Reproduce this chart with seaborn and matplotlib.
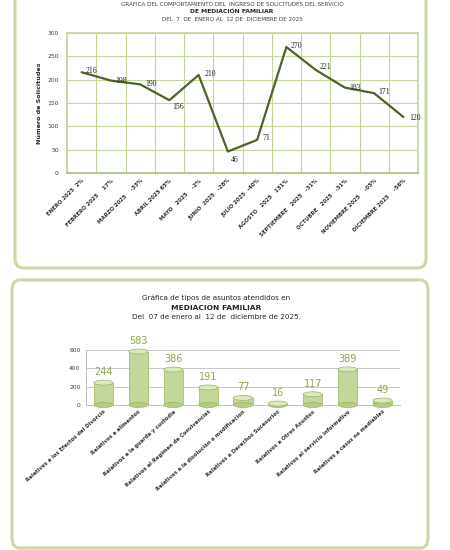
import numpy as np
import pandas as pd
import matplotlib
matplotlib.use("Agg")
import matplotlib.pyplot as plt
from matplotlib.patches import FancyBboxPatch, Ellipse
import seaborn as sns

# ---------------- data ----------------
meses = ["ENERO 2025  2%", "FEBRERO 2025    17%", "MARZO 2025    -33%", "ABRIL 2025 65%",
         "MAYO   2025    -2%", "JUNIO  2025   -28%", "JULIO 2025  -40%", "AGOSTO   2025   131%",
         "SEPTIEMBRE   2025   -31%", "OCTUBRE   2025   -31%", "NOVIEMBRE 2025    -05%",
         "DICIEMBRE 2025    -56%"]
solicitudes = [216, 198, 190, 156, 210, 46, 71, 270, 221, 183, 171, 120]

asuntos = ["Relativos a los Efectos del Divorcio", "Relativos a alimentos",
           "Relativos a la guarda y custodia", "Relativos al Regimen de Convivencias",
           "Relativos a la disolución o modificacion", "Relativos a Derechos Sucesorios",
           "Relativos a Otros Asuntos", "Relativos al servicio informativo",
           "Relativos a casos no mediables"]
asuntos_val = [244, 583, 386, 191, 77, 16, 117, 389, 49]

y1_ticks = [0, 50, 100, 150, 200, 250, 300]
y2_ticks = [0, 200, 400, 600]

sns.set_theme(style="white")
plt.rcParams["font.family"] = ["DejaVu Sans"]

W, H = 450, 550
fig = plt.figure(figsize=(4.5, 5.5), dpi=100)
fig.patch.set_facecolor("white")

def fx(px):
    return px / W

def fy(py):
    return 1 - py / H

border = "#c9d9a6"
# panels
for (x0, y0, x1, y1) in [(15, -20, 426, 268), (12, 280, 428, 548)]:
    p = FancyBboxPatch((fx(x0), fy(y1)), fx(x1 - x0), (y1 - y0) / H,
                       boxstyle="round,pad=0,rounding_size=0.018",
                       transform=fig.transFigure, facecolor="white",
                       edgecolor=border, linewidth=2.2, zorder=-10)
    fig.patches.append(p)

# ---------------- top chart ----------------
df1 = pd.DataFrame({"mes": meses, "n": solicitudes})
ax1 = fig.add_axes([fx(67), fy(173), fx(418 - 67), (173 - 33) / H])
ax1.set_facecolor("none")
sns.lineplot(data=df1, x="mes", y="n", ax=ax1, color="#4f6228", linewidth=1.6,
             sort=False, marker=None)
ax1.set_xlim(-0.5, len(meses) - 0.5)
ax1.set_ylim(0, 300)
ax1.set_yticks(y1_ticks)
ax1.set_xticks(range(len(meses)))
ax1.set_xticks(np.arange(-0.5, len(meses), 1), minor=True)
ax1.grid(False)
ax1.grid(True, which="minor", axis="x", color="#c3d69b", linewidth=0.8)
ax1.grid(True, which="major", axis="y", color="#c3d69b", linewidth=0.8)
ax1.tick_params(axis="x", which="both", length=0)
ax1.tick_params(axis="y", length=0, labelsize=4.3, labelcolor="#404040", pad=6)
ax1.set_xticklabels(meses, rotation=45, ha="right", rotation_mode="anchor",
                    fontsize=3.9, fontweight="bold", color="#303030")
ax1.set_xlabel("")
ax1.set_ylabel("Número de Solicitudes", fontsize=4.6, fontweight="bold",
               color="#262626", labelpad=4)
for s in ax1.spines.values():
    s.set_color("#c3d69b")
    s.set_linewidth(1.2)
ax1.spines["bottom"].set_color("#a6bf78")

offs = {0: (3, 1), 1: (3, 0), 2: (4, 0), 3: (2, -5), 4: (4, 1), 5: (2, -6),
        6: (4, 1), 7: (3, 1), 8: (3, 2), 9: (3, 0), 10: (3, 1), 11: (4, -1)}
for i, v in enumerate(solicitudes):
    dx, dy = offs[i]
    ax1.annotate(str(v), (i, v), xytext=(dx, dy), textcoords="offset points",
                 fontsize=5.6, family="Liberation Serif", color="#262626",
                 ha="left", va="center")

fig.text(fx(232), fy(4.5), "GRÁFICA DEL COMPORTAMIENTO DEL  INGRESO DE SOLICITUDES DEL SERVICIO",
         ha="center", va="center", fontsize=4.1, color="#404040")
fig.text(fx(232), fy(11.5), "DE MEDIACIÓN FAMILIAR", ha="center", va="center",
         fontsize=4.4, fontweight="bold", color="#262626")
fig.text(fx(232), fy(19.5), "DEL  7  DE  ENERO AL  12 DE  DICIEMBRE DE 2025",
         ha="center", va="center", fontsize=4.1, color="#404040")

# ---------------- bottom chart ----------------
df2 = pd.DataFrame({"asunto": asuntos, "n": asuntos_val})
ax_h_px = 405 - 350
ax2 = fig.add_axes([fx(86), fy(405), fx(400 - 86), ax_h_px / H])
ax2.set_facecolor("none")
bar_w = 0.55
sns.barplot(data=df2, x="asunto", y="n", ax=ax2, color="#c4d79b",
            edgecolor="#9ab661", linewidth=0.5, width=bar_w, saturation=1)
ax2.set_ylim(0, 600)
units_per_px = 600 / ax_h_px
cap_h = 5 * units_per_px
for i, v in enumerate(asuntos_val):
    ax2.add_patch(Ellipse((i, 0), bar_w, cap_h, facecolor="#b5cc85",
                          edgecolor="#9ab661", linewidth=0.5, zorder=1.5, clip_on=False))
    ax2.add_patch(Ellipse((i, v), bar_w, cap_h, facecolor="#dbe8c0",
                          edgecolor="#9ab661", linewidth=0.5, zorder=3, clip_on=False))
ax2.set_yticks(y2_ticks)
ax2.grid(True, axis="y", color="#bfbfbf", linewidth=0.6)
ax2.set_axisbelow(True)
ax2.tick_params(axis="y", length=0, labelsize=4.3, labelcolor="#404040", pad=4)
ax2.tick_params(axis="x", length=0, pad=3)
ax2.set_xticks(range(len(asuntos)))
ax2.set_xticklabels(asuntos, rotation=42, ha="right", rotation_mode="anchor",
                    fontsize=3.8, fontweight="bold", color="#303030")
ax2.set_xlabel("")
ax2.set_ylabel("")
for side in ["top", "right"]:
    ax2.spines[side].set_visible(False)
for side in ["left", "bottom"]:
    ax2.spines[side].set_color("#bfbfbf")
    ax2.spines[side].set_linewidth(0.7)
for i, v in enumerate(asuntos_val):
    ax2.annotate(str(v), (i, v), xytext=(0, 4), textcoords="offset points",
                 ha="center", va="bottom", fontsize=7, color="#8aa84e")

fig.text(fx(216), fy(298), "Gráfica de tipos de asuntos atendidos en", ha="center",
         va="center", fontsize=5.2, color="#262626")
fig.text(fx(216), fy(307.5), "MEDIACIÓN FAMILIAR", ha="center", va="center",
         fontsize=5.4, fontweight="bold", color="#262626")
fig.text(fx(216), fy(317), "Del  07 de enero al  12 de  diciembre de 2025.", ha="center",
         va="center", fontsize=5.2, color="#262626")

fig.savefig("out.png", dpi=100, facecolor="white")
